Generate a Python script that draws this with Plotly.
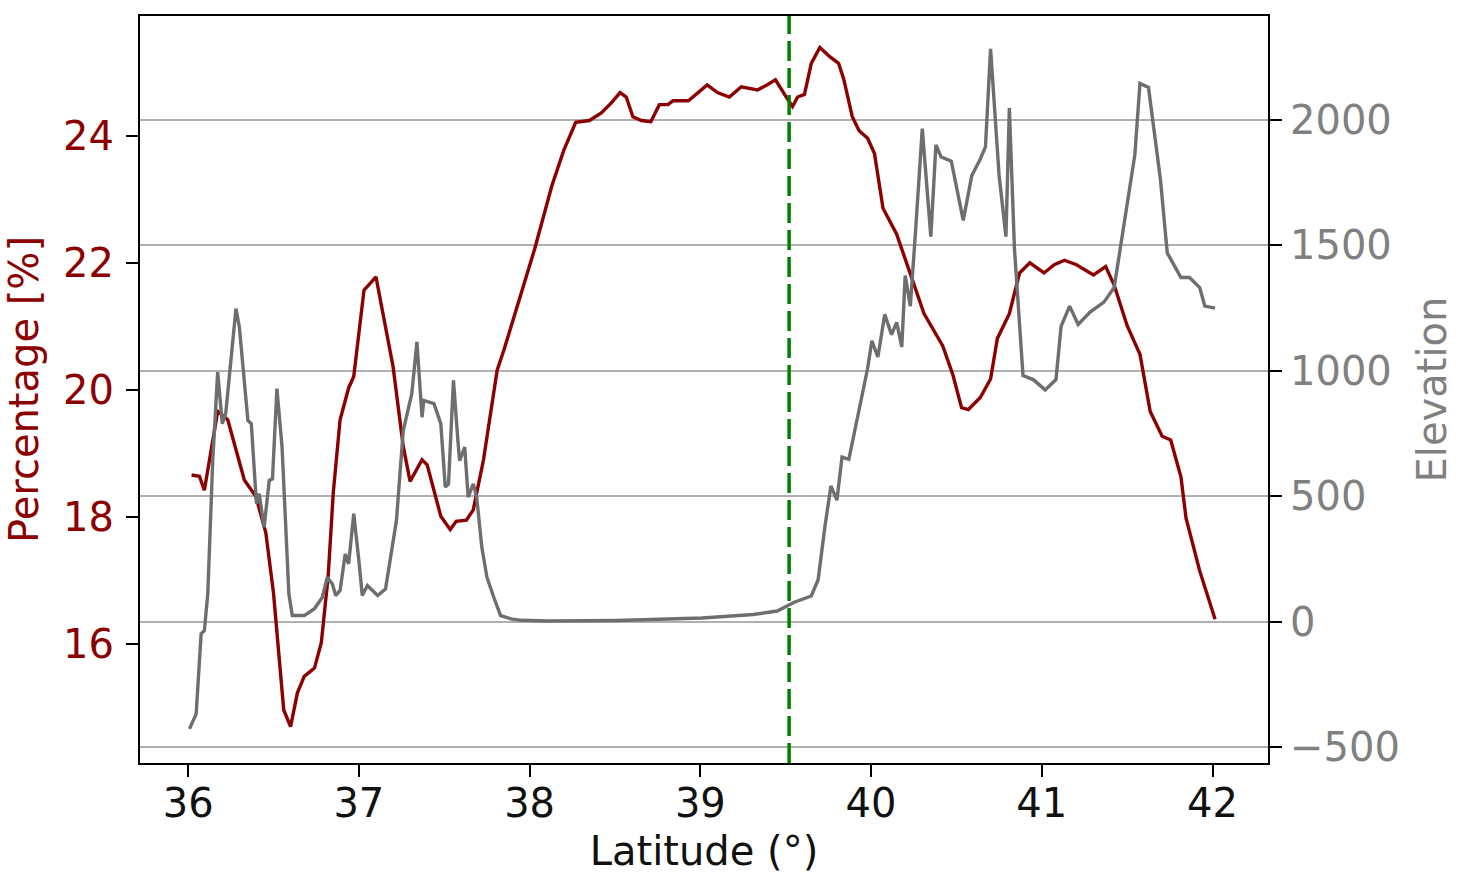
import plotly.graph_objects as go

# Percentage series (left axis)
red_lat = [36.02, 36.066, 36.095, 36.173, 36.232, 36.329, 36.397, 36.455, 36.50, 36.56,
           36.60, 36.64, 36.68, 36.74, 36.78, 36.82, 36.85, 36.89, 36.94, 36.97,
           37.03, 37.10, 37.20, 37.26, 37.30, 37.37, 37.40, 37.48, 37.535, 37.57,
           37.63, 37.67, 37.73, 37.81, 37.85, 37.93, 38.03, 38.13, 38.20, 38.27,
           38.35, 38.42, 38.48, 38.53, 38.566, 38.605, 38.654, 38.71, 38.76, 38.81,
           38.84, 38.93, 38.985, 39.04, 39.10, 39.17, 39.24, 39.335, 39.39, 39.44,
           39.51, 39.54, 39.57, 39.61, 39.65, 39.70, 39.76, 39.81, 39.84, 39.89,
           39.93, 39.98, 40.02, 40.07, 40.15, 40.25, 40.31, 40.42, 40.48, 40.53,
           40.57, 40.64, 40.70, 40.74, 40.81, 40.87, 40.93, 41.013, 41.073, 41.133,
           41.203, 41.303, 41.374, 41.424, 41.50, 41.575, 41.635, 41.705, 41.755, 41.815,
           41.845, 41.925, 42.015]
red_pct = [18.66, 18.64, 18.42, 19.66, 19.53, 18.58, 18.32, 17.75, 16.80, 14.96,
           14.70, 15.23, 15.49, 15.62, 16.02, 17.06, 18.38, 19.53, 20.03, 20.21,
           21.57, 21.78, 20.37, 19.11, 18.56, 18.90, 18.82, 18.01, 17.80, 17.93,
           17.95, 18.11, 18.90, 20.31, 20.63, 21.34, 22.22, 23.21, 23.77, 24.21,
           24.24, 24.36, 24.52, 24.68, 24.61, 24.30, 24.24, 24.22, 24.49, 24.49,
           24.55, 24.55, 24.68, 24.80, 24.68, 24.61, 24.77, 24.72, 24.80, 24.88,
           24.58, 24.46, 24.61, 24.65, 25.14, 25.39, 25.24, 25.14, 24.89, 24.30,
           24.08, 23.96, 23.72, 22.86, 22.45, 21.65, 21.20, 20.69, 20.23, 19.72,
           19.69, 19.88, 20.17, 20.81, 21.20, 21.84, 22.00, 21.84, 21.97, 22.04,
           21.97, 21.81, 21.94, 21.65, 21.01, 20.56, 19.66, 19.27, 19.21, 18.63,
           17.98, 17.15, 16.39]

# Elevation series (right axis)
gray_lat = [36.008, 36.047, 36.076, 36.095, 36.115, 36.144, 36.173, 36.20, 36.22, 36.25,
            36.28, 36.30, 36.35, 36.37, 36.40, 36.416, 36.445, 36.475, 36.494, 36.52,
            36.55, 36.59, 36.61, 36.68, 36.74, 36.786, 36.815, 36.845, 36.864, 36.89,
            36.92, 36.94, 36.97, 37.0, 37.02, 37.05, 37.11, 37.156, 37.20, 37.22,
            37.26, 37.31, 37.34, 37.37, 37.38, 37.44, 37.48, 37.506, 37.525, 37.554,
            37.58, 37.59, 37.62, 37.64, 37.67, 37.69, 37.72, 37.75, 37.79, 37.83,
            37.89, 37.95, 38.11, 38.51, 39.01, 39.31, 39.45, 39.51, 39.55, 39.65,
            39.69, 39.73, 39.765, 39.80, 39.83, 39.87, 39.925, 39.98, 40.005, 40.04,
            40.08, 40.12, 40.15, 40.18, 40.20, 40.23, 40.26, 40.30, 40.35, 40.38,
            40.41, 40.47, 40.54, 40.59, 40.64, 40.67, 40.70, 40.75, 40.79, 40.81,
            40.84, 40.89, 40.95, 41.02, 41.083, 41.113, 41.163, 41.213, 41.283, 41.364,
            41.424, 41.484, 41.545, 41.575, 41.625, 41.695, 41.735, 41.815, 41.865, 41.925,
            41.955, 42.015]
gray_elev = [-428, -368, -49, -36, 110, 642, 995, 789, 829, 1041,
             1248, 1174, 802, 789, 470, 510, 376, 563, 569, 929,
             696, 110, 24, 24, 51, 97, 177, 150, 104, 124,
             270, 230, 430, 243, 104, 144, 104, 130, 323, 403,
             762, 909, 1115, 815, 882, 869, 789, 536, 549, 962,
             722, 642, 696, 496, 549, 496, 297, 177, 97, 24,
             11, 5, 2, 4, 14, 28, 42, 64, 77, 102,
             167, 380, 541, 484, 656, 647, 835, 1010, 1120, 1055,
             1225, 1144, 1193, 1095, 1380, 1258, 1551, 1966, 1535, 1901,
             1853, 1836, 1600, 1779, 1845, 1893, 2284, 1779, 1535, 2048,
             1486, 981, 965, 924, 965, 1177, 1258, 1185, 1234, 1274,
             1332, 1584, 1861, 2146, 2130, 1763, 1470, 1372, 1372, 1332,
             1258, 1250]

x_ticks = [36, 37, 38, 39, 40, 41, 42]
left_ticks = [16, 18, 20, 22, 24]
right_ticks = [-500, 0, 500, 1000, 1500, 2000]
right_ticktext = ["\u2212500", "0", "500", "1000", "1500", "2000"]
marker_lat = 39.52

RED = "#8b0000"
GRAY_LINE = "#6e6e6e"
GRAY_TEXT = "#808080"
FONT = "DejaVu Sans"
FS = 40

fig = go.Figure()
fig.add_trace(go.Scatter(x=red_lat, y=red_pct, mode="lines",
                         line=dict(color=RED, width=3.4), showlegend=False))
fig.add_trace(go.Scatter(x=gray_lat, y=gray_elev, mode="lines", yaxis="y2",
                         line=dict(color=GRAY_LINE, width=3.4), showlegend=False))

fig.add_shape(type="line", x0=marker_lat, x1=marker_lat, xref="x", y0=0, y1=1, yref="paper",
              line=dict(color="#008000", width=3.5, dash="20px,7px"), layer="above")

fig.update_layout(
    width=1460, height=886, autosize=False,
    margin=dict(l=140, r=192, t=16, b=123),
    plot_bgcolor="white", paper_bgcolor="white",
    font=dict(family=FONT, size=FS, color="black"),
    xaxis=dict(range=[35.718, 42.325], tickvals=x_ticks, ticks="outside", ticklen=12,
               tickwidth=2, tickcolor="black", showline=True, linecolor="black",
               linewidth=2, mirror=True, showgrid=False, zeroline=False,
               ticklabelstandoff=-8,
               tickfont=dict(size=FS, color="#111"),
               title=dict(text="Latitude (°)", font=dict(size=FS, color="#111"), standoff=12)),
    yaxis=dict(range=[14.126, 25.885], tickvals=left_ticks, ticks="outside", ticklen=12,
               tickwidth=2, tickcolor="black", showline=True, linecolor="black",
               linewidth=2, showgrid=False, zeroline=False, ticklabelstandoff=4,
               tickfont=dict(size=FS, color=RED),
               title=dict(text="Percentage [%]", font=dict(size=FS, color=RED), standoff=12)),
    yaxis2=dict(range=[-564, 2415], overlaying="y", side="right", tickvals=right_ticks,
                ticktext=right_ticktext, ticks="outside", ticklen=12, tickwidth=2,
                tickcolor="black", showline=True, linecolor="black", linewidth=2,
                showgrid=True, gridcolor="#b0b0b0", gridwidth=1.5, zeroline=False,
                tickfont=dict(size=FS, color=GRAY_TEXT),
                title=dict(text="Elevation", font=dict(size=FS, color=GRAY_TEXT), standoff=19)),
)

fig.write_html("out.html")
